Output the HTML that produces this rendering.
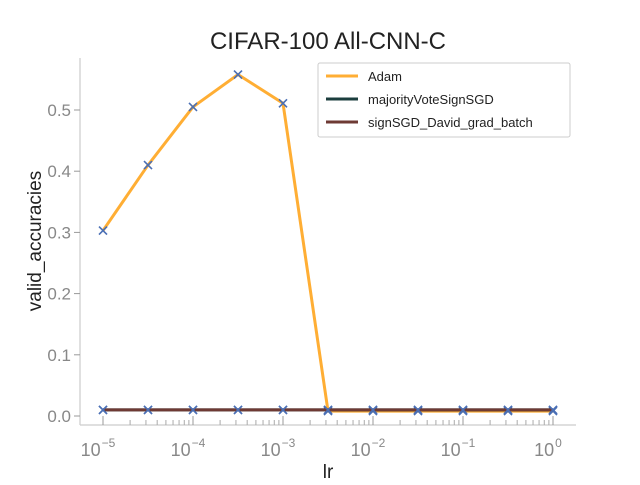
<!DOCTYPE html>
<html><head><meta charset="utf-8"><style>
body{margin:0;background:#fff}
svg{font-family:"Liberation Sans",sans-serif}
</style></head><body>
<svg id="c" width="640" height="480">
<text x="328" y="49" text-anchor="middle" font-size="24" fill="#222">CIFAR-100 All-CNN-C</text>
<line x1="80" y1="58" x2="80" y2="425" stroke="#ccc" stroke-width="1.2"/>
<line x1="80" y1="425" x2="576" y2="425" stroke="#ccc" stroke-width="1.2"/>
<text x="41" y="241" transform="rotate(-90 41 241)" text-anchor="middle" font-size="19" fill="#222">valid_accuracies</text>
<text x="328" y="478" text-anchor="middle" font-size="19" fill="#222">lr</text>
<g id="ax"></g>
<g id="marks"></g>
<g>
<rect x="318" y="63" width="252" height="74" fill="#fff" stroke="#ccc" rx="2"/>
<line x1="326" y1="76" x2="358" y2="76" stroke="#ffae34" stroke-width="3"/>
<text x="368" y="81" font-size="13" fill="#222">Adam</text>
<line x1="326" y1="99" x2="358" y2="99" stroke="#1b3d3d" stroke-width="3"/>
<text x="368" y="104" font-size="13" fill="#222">majorityVoteSignSGD</text>
<line x1="326" y1="122" x2="358" y2="122" stroke="#6e3a34" stroke-width="3"/>
<text x="368" y="127" font-size="13" fill="#222">signSGD_David_grad_batch</text>
</g>
</svg>
<script>
const lrExp=[-5,-4.5,-4,-3.5,-3,-2.5,-2,-1.5,-1,-0.5,0];
const adam=[0.303,0.41,0.505,0.558,0.511,0.008,0.008,0.008,0.008,0.008,0.008];
const majority=[0.01,0.01,0.01,0.01,0.01,0.01,0.01,0.01,0.01,0.01,0.01];
const signsgd=[0.01,0.01,0.01,0.01,0.01,0.01,0.01,0.01,0.01,0.01,0.01];
const yTicks=[0,0.1,0.2,0.3,0.4,0.5];
const xTicks=[-5,-4,-3,-2,-1,0];
const X=e=>103+(e+5)*90, Y=v=>416-v*612;
const NS="http://www.w3.org/2000/svg";
const ax=document.getElementById('ax'),mk=document.getElementById('marks');
function el(t,a,p){const n=document.createElementNS(NS,t);for(const k in a)n.setAttribute(k,a[k]);p.appendChild(n);return n;}
yTicks.forEach(v=>{
 const l=el('line',{x1:74,x2:80,y1:Y(v),y2:Y(v),stroke:'#999'},ax);
 
 
 const t=el('text',{x:71,y:Y(v)+6,'text-anchor':'end','font-size':17,fill:'#888'},ax);
 t.textContent=v.toFixed(1);
 
 
});
xTicks.forEach(e=>{
 const l=el('line',{x1:X(e),x2:X(e),y1:425,y2:416,stroke:'#999'},ax);
 
 
 const t=el('text',{x:X(e)-5,y:456,'text-anchor':'middle','font-size':18,fill:'#888'},ax);
 t.textContent='10';
 
 
 const s=el('tspan',{dx:1,dy:-9,'font-size':12},t);s.textContent=e===0?'0':'\u2212'+(-e);
 if(e<0)for(let m=2;m<10;m++){const xx=X(e+Math.log10(m));
  const ml=el('line',{x1:xx,x2:xx,y1:425,y2:420,stroke:'#aaa'},ax);
  
  }
});
function series(vals,col,name){
 const p=el('polyline',{points:vals.map((v,i)=>X(lrExp[i])+','+Y(v)).join(' '),fill:'none',stroke:col,'stroke-width':3},mk);
 
 
 vals.forEach((v,i)=>{const x=X(lrExp[i]),y=Y(v);
  const m=el('path',{d:`M${x-4},${y-4}L${x+4},${y+4}M${x-4},${y+4}L${x+4},${y-4}`,stroke:'#4a6fb5','stroke-width':1.6},mk);
  
  });
}
series(adam,'#ffae34','adam-line');
series(majority,'#1b3d3d','majority-line');
series(signsgd,'#6e3a34','signsgd-line');
</script>
</body></html>
